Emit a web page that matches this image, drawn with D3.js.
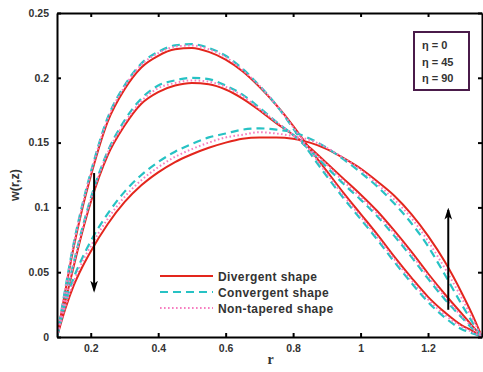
<!DOCTYPE html>
<html>
<head>
<meta charset="utf-8">
<script src="https://cdn.jsdelivr.net/npm/d3@7"></script>
<style>
  body { margin: 0; background: #fff; }
  .tickText { font-family: Arial, "Liberation Sans", sans-serif; font-size: 10.5px; font-weight: bold; fill: #333; }
  .legendText { font-family: Arial, "Liberation Sans", sans-serif; font-size: 12px; font-weight: bold; fill: #333; }
</style>
</head>
<body>
<div id="chart"></div>
<script>
// DATA
var rValues = [0.1, 0.125, 0.15, 0.175, 0.2, 0.25, 0.3, 0.35, 0.4, 0.45, 0.5, 0.55, 0.6, 0.65, 0.7,
    0.75, 0.8, 0.85, 0.9, 0.95, 1.0, 1.05, 1.1, 1.15, 1.2, 1.25, 1.3, 1.33, 1.36];

// eta = 0 (tallest group)
var eta0Divergent  = [0, 0.036, 0.070, 0.099, 0.124, 0.166, 0.191, 0.208, 0.217, 0.222, 0.223, 0.220, 0.214, 0.205, 0.193, 0.179, 0.163, 0.145, 0.128, 0.111, 0.095, 0.079, 0.062, 0.046, 0.031, 0.019, 0.009, 0.005, 0];
var eta0Convergent = [0, 0.038, 0.073, 0.102, 0.127, 0.169, 0.194, 0.211, 0.220, 0.225, 0.226, 0.223, 0.217, 0.207, 0.194, 0.179, 0.161, 0.142, 0.124, 0.107, 0.091, 0.075, 0.058, 0.042, 0.027, 0.015, 0.006, 0.003, 0];
var eta0NonTapered = [0, 0.037, 0.072, 0.101, 0.126, 0.168, 0.193, 0.210, 0.219, 0.224, 0.225, 0.222, 0.216, 0.206, 0.194, 0.179, 0.162, 0.144, 0.126, 0.109, 0.093, 0.077, 0.060, 0.044, 0.029, 0.017, 0.008, 0.004, 0];

// eta = 45
var eta45Divergent  = [0, 0.028, 0.055, 0.081, 0.104, 0.140, 0.163, 0.180, 0.189, 0.194, 0.196, 0.195, 0.191, 0.184, 0.175, 0.165, 0.156, 0.146, 0.134, 0.122, 0.110, 0.097, 0.082, 0.066, 0.049, 0.033, 0.018, 0.009, 0];
var eta45Convergent = [0, 0.030, 0.058, 0.084, 0.107, 0.143, 0.167, 0.184, 0.194, 0.198, 0.200, 0.199, 0.194, 0.187, 0.177, 0.166, 0.156, 0.144, 0.131, 0.118, 0.106, 0.093, 0.078, 0.062, 0.045, 0.029, 0.015, 0.007, 0];
var eta45NonTapered = [0, 0.029, 0.057, 0.083, 0.106, 0.142, 0.165, 0.182, 0.192, 0.196, 0.198, 0.197, 0.193, 0.186, 0.176, 0.166, 0.156, 0.145, 0.133, 0.120, 0.108, 0.095, 0.080, 0.064, 0.047, 0.031, 0.016, 0.008, 0];

// eta = 90 (flattest group)
var eta90Divergent  = [0, 0.022, 0.040, 0.054, 0.066, 0.087, 0.104, 0.117, 0.127, 0.135, 0.141, 0.146, 0.150, 0.153, 0.154, 0.154, 0.153, 0.150, 0.145, 0.138, 0.130, 0.120, 0.109, 0.095, 0.078, 0.058, 0.034, 0.018, 0];
var eta90Convergent = [0, 0.026, 0.046, 0.061, 0.074, 0.095, 0.112, 0.125, 0.135, 0.143, 0.149, 0.154, 0.157, 0.160, 0.161, 0.160, 0.158, 0.153, 0.146, 0.137, 0.127, 0.116, 0.103, 0.088, 0.070, 0.048, 0.025, 0.012, 0];
var eta90NonTapered = [0, 0.024, 0.043, 0.058, 0.070, 0.091, 0.108, 0.121, 0.131, 0.139, 0.145, 0.150, 0.154, 0.156, 0.158, 0.157, 0.155, 0.152, 0.146, 0.138, 0.129, 0.118, 0.106, 0.092, 0.074, 0.053, 0.030, 0.015, 0];

var shapeNames = ["Divergent shape", "Convergent shape", "Non-tapered shape"];
var etaLabels = ["\u03B7 = 0", "\u03B7 = 45", "\u03B7 = 90"];
var xTicks = [0.2, 0.4, 0.6, 0.8, 1, 1.2];
var yTicks = [0, 0.05, 0.1, 0.15, 0.2, 0.25];

// arrows: [r, from w, to w]
var arrowDown = [0.21, 0.1265, 0.036];
var arrowUp = [1.26, 0.021, 0.098];

//SVG WRAPPER
var svgWidth = 483;
var svgHeight = 372;
var margin = { top: 13, right: 1, bottom: 35, left: 57 };
var plotWidth = svgWidth - margin.left - margin.right;
var plotHeight = svgHeight - margin.top - margin.bottom;

var svg = d3.select("#chart")
    .append("svg")
    .attr("width", svgWidth)
    .attr("height", svgHeight);

var chartGroup = svg.append("g")
    .attr("transform", `translate(${margin.left}, ${margin.top})`);

//SCALES
var xScale = d3.scaleLinear().domain([0.1, 1.36]).range([0, plotWidth]);
var yScale = d3.scaleLinear().domain([0, 0.25]).range([plotHeight, 0]);

//styles for each shape
var shapeStyles = [
    { color: "#e3261d", dash: null, width: 2 },
    { color: "#27c2c4", dash: "8,5", width: 2.2 },
    { color: "#f77ec0", dash: "1.6,2.4", width: 2 }
];

var seriesList = [
    [eta0Divergent, eta0Convergent, eta0NonTapered],
    [eta45Divergent, eta45Convergent, eta45NonTapered],
    [eta90Divergent, eta90Convergent, eta90NonTapered]
];

var line = d3.line()
    .x(d => xScale(d[0]))
    .y(d => yScale(d[1]))
    .curve(d3.curveMonotoneX);

svg.append("clipPath").attr("id", "plotClip")
    .append("rect").attr("width", plotWidth).attr("height", plotHeight + 1);

// draw curves: red first, then dashed, then dotted on top
shapeStyles.forEach(function(style, s) {
    seriesList.forEach(function(group) {
        var pts = rValues.map((r, i) => [r, group[s][i]]);
        chartGroup.append("path")
            .datum(pts)
            .attr("d", line)
            .attr("fill", "none")
            .attr("stroke", style.color)
            .attr("stroke-width", style.width)
            .attr("stroke-dasharray", style.dash)
            .attr("clip-path", "url(#plotClip)");
    });
});

//AXES with inward ticks on all sides
chartGroup.append("g")
    .attr("transform", `translate(0, ${plotHeight})`)
    .call(d3.axisBottom(xScale).tickValues(xTicks).tickSizeInner(-4).tickSizeOuter(0).tickPadding(8).tickFormat(d3.format("")))
    .call(g => g.selectAll("text").attr("class", "tickText"));

chartGroup.append("g")
    .call(d3.axisTop(xScale).tickValues(xTicks).tickSizeInner(-4).tickSizeOuter(0).tickFormat(""));

chartGroup.append("g")
    .call(d3.axisLeft(yScale).tickValues(yTicks).tickSizeInner(-4).tickSizeOuter(0).tickPadding(8).tickFormat(d3.format("")))
    .call(g => g.selectAll("text").attr("class", "tickText"));

chartGroup.append("g")
    .attr("transform", `translate(${plotWidth}, 0)`)
    .call(d3.axisRight(yScale).tickValues(yTicks).tickSizeInner(-4).tickSizeOuter(0).tickFormat(""));

chartGroup.selectAll(".domain").attr("stroke", "#000").attr("stroke-width", 2);
chartGroup.selectAll(".tick line").attr("stroke", "#000").attr("stroke-width", 2);

//ARROWS
svg.append("defs").append("marker")
    .attr("id", "arrowHead")
    .attr("viewBox", "0 0 10 10")
    .attr("preserveAspectRatio", "none")
    .attr("refX", 8)
    .attr("refY", 5)
    .attr("markerWidth", 6)
    .attr("markerHeight", 3.8)
    .attr("markerUnits", "strokeWidth")
    .attr("orient", "auto")
    .append("path")
    .attr("d", "M0,0 L10,5 L0,10 L2.5,5 Z")
    .attr("fill", "#000");

[arrowDown, arrowUp].forEach(function(a) {
    chartGroup.append("line")
        .attr("x1", xScale(a[0]))
        .attr("x2", xScale(a[0]))
        .attr("y1", yScale(a[1]))
        .attr("y2", yScale(a[2]))
        .attr("stroke", "#000")
        .attr("stroke-width", 2)
        .attr("marker-end", "url(#arrowHead)");
});

//SHAPE LEGEND
var legend = chartGroup.append("g")
    .attr("transform", `translate(${160 - margin.left}, ${276 - margin.top})`);

shapeNames.forEach(function(name, i) {
    legend.append("line")
        .attr("x1", 0).attr("x2", 53)
        .attr("y1", i * 16).attr("y2", i * 16)
        .attr("stroke", shapeStyles[i].color)
        .attr("stroke-width", shapeStyles[i].width)
        .attr("stroke-dasharray", shapeStyles[i].dash);
    legend.append("text")
        .attr("class", "legendText")
        .attr("x", 58)
        .attr("y", i * 16 + 4.5)
        .style("letter-spacing", "0.4px")
        .text(name);
});

//ETA BOX
var etaBox = svg.append("g").attr("transform", "translate(414, 32)");
etaBox.append("rect")
    .attr("width", 55).attr("height", 58)
    .attr("fill", "#fff")
    .attr("stroke", "#4a1b4a")
    .attr("stroke-width", 2);
etaLabels.forEach(function(t, i) {
    etaBox.append("text")
        .attr("class", "legendText")
        .attr("x", 8)
        .attr("y", 17 + i * 16.5)
        .style("font-size", "11px")
        .text(t);
});

//AXIS LABELS
svg.append("text")
    .attr("transform", "rotate(-90)")
    .attr("x", -185)
    .attr("y", 19)
    .attr("text-anchor", "middle")
    .attr("class", "legendText")
    .style("font-size", "12.5px")
    .text("w(r,z)");

svg.append("text")
    .attr("x", margin.left + xScale(0.733))
    .attr("y", 364)
    .attr("text-anchor", "middle")
    .style("font-family", "'Liberation Serif', serif")
    .style("font-size", "14px")
    .style("font-weight", "bold")
    .style("fill", "#333")
    .text("r");
</script>
</body>
</html>
